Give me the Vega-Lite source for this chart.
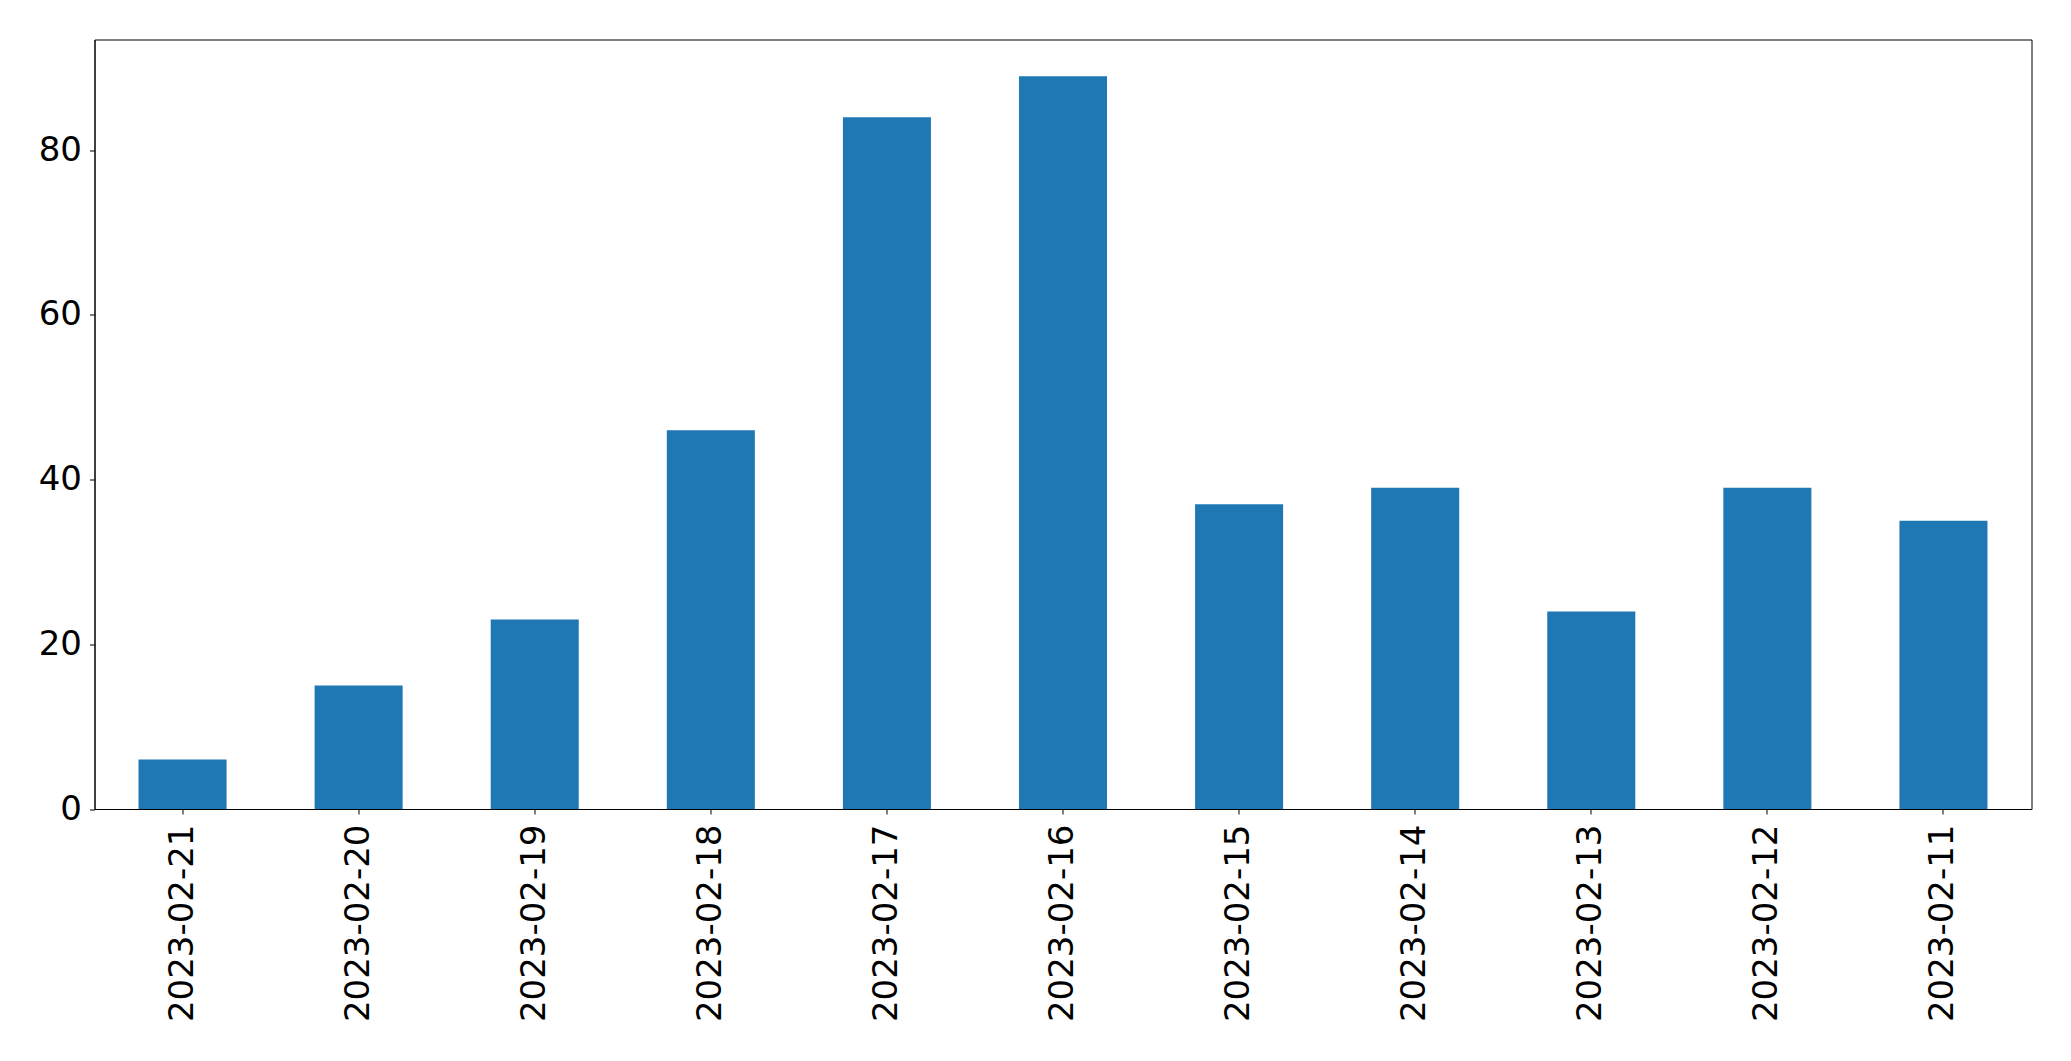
{
  "$schema": "https://vega.github.io/schema/vega-lite/v6.json",
  "autosize": {"type": "none"},
  "padding": {"left": 94.5, "top": 39.5, "right": 40, "bottom": 252},
  "width": 1937,
  "height": 769.5,
  "background": "white",
  "data": {
    "values": [
      {"date": "2023-02-21", "count": 6},
      {"date": "2023-02-20", "count": 15},
      {"date": "2023-02-19", "count": 23},
      {"date": "2023-02-18", "count": 46},
      {"date": "2023-02-17", "count": 84},
      {"date": "2023-02-16", "count": 89},
      {"date": "2023-02-15", "count": 37},
      {"date": "2023-02-14", "count": 39},
      {"date": "2023-02-13", "count": 24},
      {"date": "2023-02-12", "count": 39},
      {"date": "2023-02-11", "count": 35}
    ]
  },
  "config": {
    "view": {"stroke": "black", "strokeWidth": 1},
    "font": "DejaVu Sans",
    "axis": {
      "labelFont": "DejaVu Sans",
      "labelFontSize": 34,
      "labelColor": "black",
      "labelLimit": 0,
      "domainColor": "black",
      "tickColor": "black",
      "tickSize": 5,
      "tickWidth": 1,
      "domainWidth": 1,
      "grid": false,
      "title": null
    }
  },
  "mark": {"type": "bar", "color": "#1f77b4"},
  "encoding": {
    "x": {
      "field": "date",
      "type": "nominal",
      "sort": null,
      "scale": {"paddingInner": 0.5, "paddingOuter": 0.25},
      "axis": {"labelAngle": -90, "labelAlign": "right", "labelBaseline": "middle", "labelPadding": 10}
    },
    "y": {
      "field": "count",
      "type": "quantitative",
      "scale": {"domain": [0, 93.45], "nice": false, "zero": true},
      "axis": {"values": [0, 20, 40, 60, 80], "labelPadding": 8}
    }
  }
}
